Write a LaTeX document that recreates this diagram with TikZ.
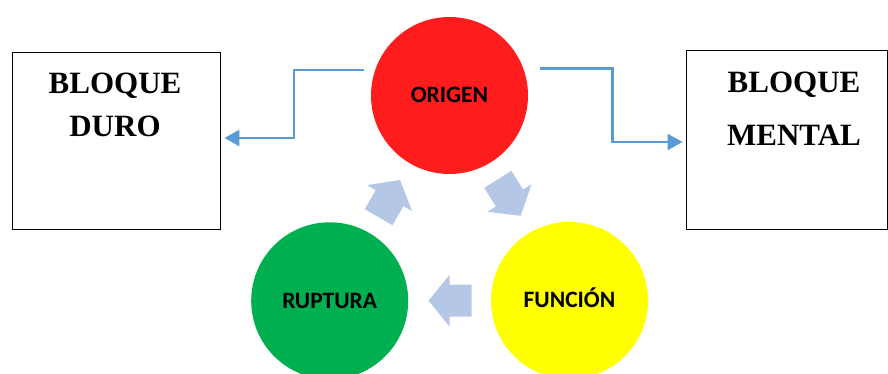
\documentclass[tikz,border=0pt]{standalone}
\usepackage{fontspec}
\setmainfont{Liberation Serif}
\newfontfamily\carlito{Carlito}
\usetikzlibrary{arrows.meta, positioning, calc}
\definecolor{origenred}{HTML}{FF1C1C}
\definecolor{rupturagreen}{HTML}{00B050}
\definecolor{funcionyellow}{HTML}{FFFF00}
\definecolor{enlaceblue}{HTML}{5B9BD5}
\definecolor{giroblue}{HTML}{B4C7E7}
\tikzset{bloque/.style={draw, line width=0.9pt, inner sep=0pt},
         bloquetext/.style={align=center, inner sep=0pt, anchor=north, font=\bfseries\fontsize{31}{#1}\selectfont},
         etapa/.style={circle, minimum size=157pt, inner sep=0pt, text height=15pt, text depth=0pt,
                       font=\carlito\bfseries\fontsize{23.5}{28}\selectfont},
         enlace/.style={draw=enlaceblue, line width=2.4pt, -{Triangle[length=15pt,width=16pt]}},
         giro/.pic={\fill[giroblue] (21,0) -- (0,26) -- (0,16) -- (-22,16) -- (-22,-16) -- (0,-16) -- (0,-26) -- cycle;}
        }
\begin{document}
\begin{tikzpicture}[x=1pt, y=1pt]
  \useasboundingbox (0,0) rectangle (888,374);
  % bloques
  \node[bloque, minimum width=208pt, minimum height=177pt] (duro) at (116,233.5) {};
  \node[bloque, minimum width=201pt, minimum height=179pt] (mental) at (786.5,234.5) {};
  \node[bloquetext=43.3] (durotext) at (115,301.2) {BLOQUE\\DURO};
  \node[bloquetext=52.7] (mentaltext) at (794,301.8) {BLOQUE\\MENTAL};
  % ciclo
  \node[etapa, fill=origenred] (origen) at (449.5,278.5) {ORIGEN};
  \node[etapa, fill=rupturagreen] (ruptura) at (329.7,73.2) {RUPTURA};
  \node[etapa, fill=funcionyellow] (funcion) at (569.5,73.5) {FUNCIÓN};
  \pic[rotate=60] at ($(ruptura)!0.5!(origen)$) {giro};
  \pic[rotate=-58] at ($(origen)!0.5!(funcion)$) {giro};
  \pic[rotate=180] at ($(funcion)!0.5!(ruptura)$) {giro};
  % enlaces
  \draw[enlace] ([xshift=-11pt]origen.161.6) -- ++(-70,0) |- ([xshift=4pt,yshift=2.5pt]duro.east);
  \draw[enlace] ([xshift=17pt]origen.20.5) -- ++(72,0) |- ([xshift=-3pt,yshift=-2.5pt]mental.west);
\end{tikzpicture}
\end{document}
